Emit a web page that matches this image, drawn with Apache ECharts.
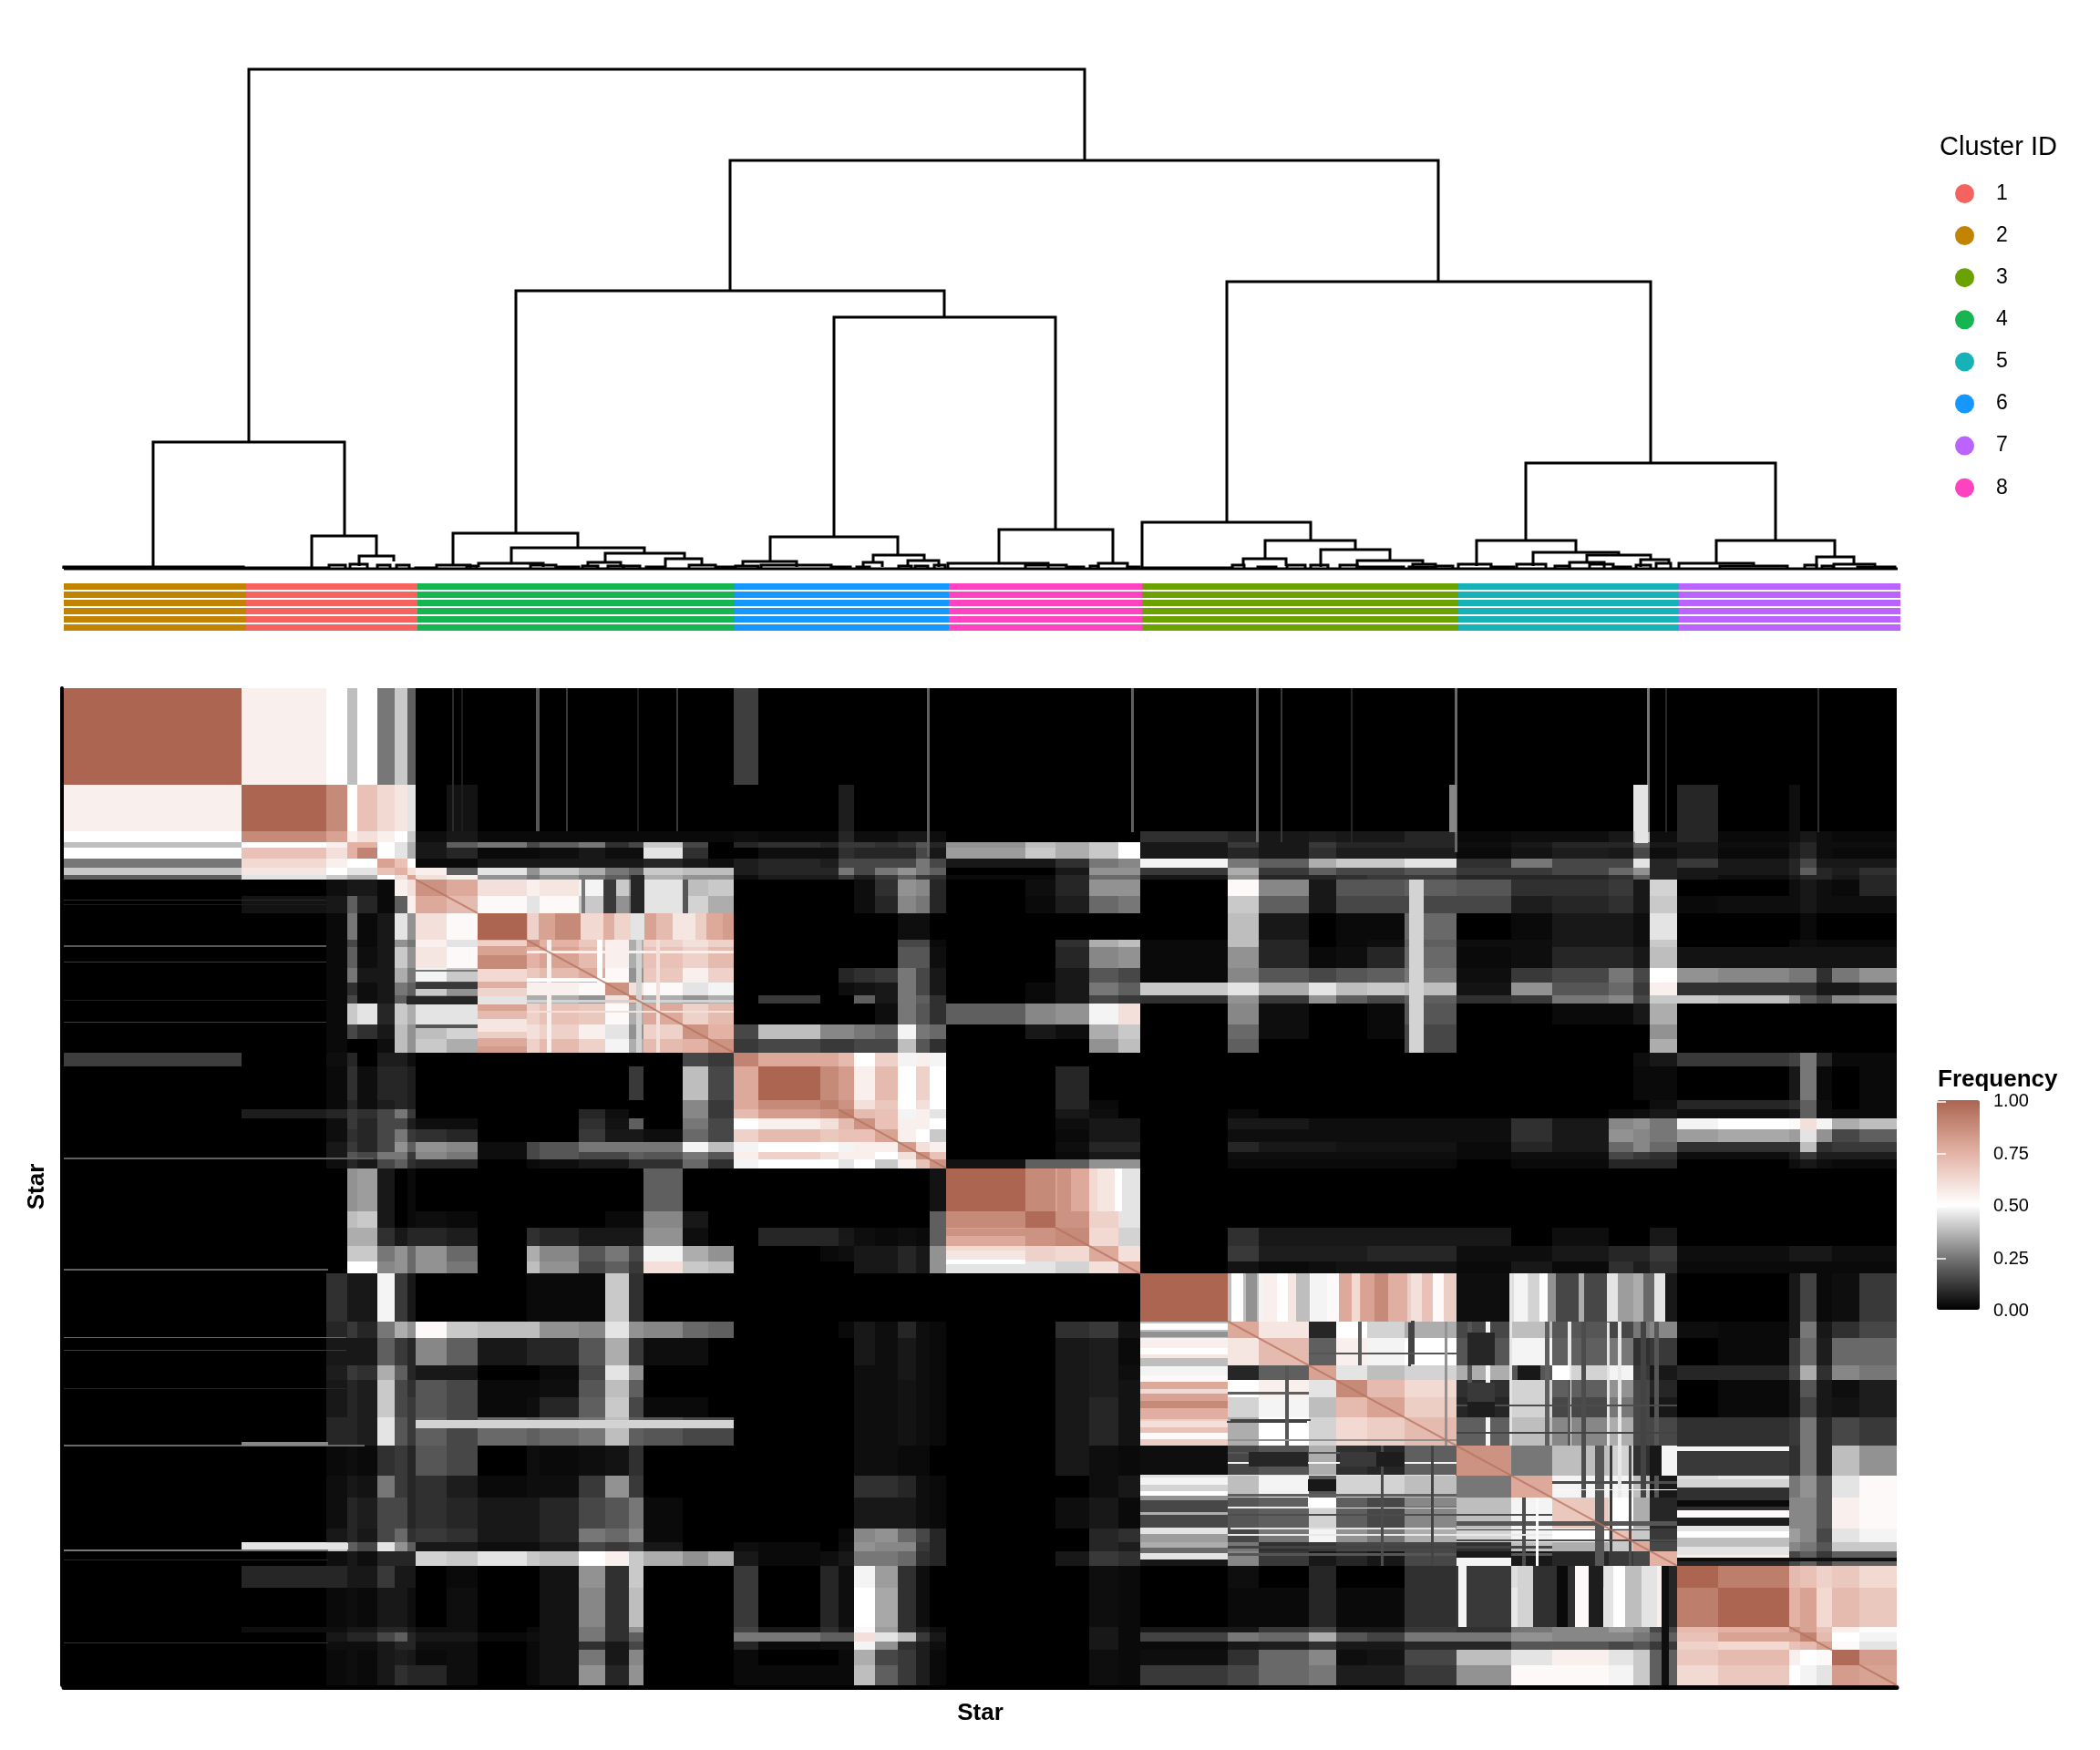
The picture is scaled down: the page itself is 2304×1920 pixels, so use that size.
<!DOCTYPE html>
<html><head><meta charset="utf-8">
<style>html,body{margin:0;background:#fff}#c{width:2304px;height:1920px}</style>
<script src="https://cdn.jsdelivr.net/npm/echarts@6/dist/echarts.min.js"></script>
</head><body><div id="c"></div>
<script>
// Star rank at which each ordered group of stars ends (same order on both axes).
const groupEnds = [195, 288,311,322,344,363,377,386, 420,454,508,522,565,594,620,636,679,707,735,
  762,830,850,867,890,915,935,950,968, 1055,1088,1125,1157,1181, 1277,1311,1366,1396,1430,1471,1528,
  1588,1633,1695,1722,1740,1770, 1815,1893,1905,1923,1940,1970,2011];

// Co-clustering frequency x100, upper triangle, read group by group.
const rowsCluster2 = [
 [100, 55,50,38,50,25,40,20, 0,0,0,0,0,0,0,0,0,0,0, 13,0,0,0,0,0,0,0,0, 0,0,0,0,0, 0,0,0,0,0,0,0, 0,0,0,0,0,0, 0,0,0,0,0,0,0]];
const rowsCluster1 = [
 [100,88,50,70,62,58,45, 0,4,0,0,0,0,0,0,0,0,0, 0,0,0,6,0,0,0,0,0, 0,0,0,0,0, 0,0,0,0,0,0,0, 0,0,0,0,45,0, 8,0,3,0,0,0,0],
 [80,55,60,55,50,40, 3,5,2,2,2,2,2,2,2,2,2, 3,2,2,8,3,3,5,5,3, 0,0,0,0,0, 10,8,5,6,5,5,8, 2,3,3,5,40,3, 8,2,3,5,3,2,2],
 [75,75,50,45,35, 5,20,25,15,20,25,10,15,40,15,0, 8,10,8,12,12,10,12,18,8, 30,38,35,40,50, 5,12,5,12,8,8,8, 3,5,8,8,20,5, 5,3,5,8,3,3,3],
 [90,50,45,35, 5,8,2,2,3,5,3,3,45,10,0, 0,3,3,10,8,8,8,15,5, 32,40,35,40,50, 5,8,5,10,6,6,6, 2,4,6,5,15,3, 5,2,5,8,3,2,2],
 [80,70,50, 2,2,5,5,5,5,5,5,8,5,3, 6,8,6,15,15,15,15,25,15, 5,5,10,25,28, 48,25,20,35,40,40,45, 10,25,15,15,45,8, 12,5,8,15,5,5,5],
 [75,60, 55,20,45,30,40,35,25,20,40,38,38, 6,8,8,25,15,25,30,25,20, 0,0,5,30,30, 12,35,12,20,15,15,18, 12,12,15,22,30,8, 5,5,8,20,8,6,10],
 [80, 60,55,30,25,30,25,20,15,35,30,30, 3,6,6,12,6,12,20,12,10, 2,2,8,22,22, 5,30,8,8,10,12,12, 8,8,8,10,20,8, 5,3,5,8,8,5,8]];
const rowsCluster4 = [
 [85,78,60,55,58,48,40,30,45,38,40, 0,0,0,0,3,10,30,28,8, 0,3,8,30,30, 0,52,28,5,18,18,20, 18,10,10,12,5,42, 0,0,3,5,3,2,8],
 [72,52,45,52,40,30,25,45,42,35, 0,0,0,0,3,8,28,25,8, 0,2,6,22,25, 0,40,20,5,15,15,15, 15,6,8,10,5,40, 2,3,3,5,3,3,3],
 [100,75,88,80,65,45,75,70,85, 0,0,0,0,0,0,3,3,0, 0,0,0,0,0, 0,38,5,0,2,2,22, 0,2,5,5,3,45, 0,0,0,2,0,0,0],
 [85,75,68,55,35,65,60,65, 0,0,0,0,0,0,15,15,2, 0,0,10,35,38, 2,38,8,0,2,3,20, 3,3,5,5,3,40, 0,0,2,3,2,2,2],
 [80,72,55,35,70,65,72, 0,0,0,0,0,0,18,18,3, 0,0,8,28,30, 2,30,8,2,3,8,22, 2,3,8,8,5,38, 4,4,4,4,4,4,4],
 [78,52,30,68,55,65, 0,0,0,8,10,12,25,15,5, 0,0,5,18,15, 2,28,18,15,18,20,25, 3,12,15,25,15,50, 30,28,25,25,10,25,30],
 [85,60,52,45,48, 0,0,0,3,4,5,25,15,5, 0,2,5,25,20, 40,45,35,45,38,40,38, 4,30,18,22,12,55, 10,10,10,10,5,5,8],
 [88,35,30,35, 0,12,0,0,20,5,25,20,10, 0,2,5,15,12, 10,30,12,30,20,15,20, 10,12,25,28,15,40, 40,38,30,20,15,28,30],
 [78,65,72, 0,0,0,0,0,3,25,18,10, 20,28,30,48,60, 0,28,3,0,0,2,18, 0,0,2,2,5,35, 0,0,0,0,0,0,0],
 [85,75, 15,38,28,28,25,22,48,25,22, 0,5,3,35,40, 0,22,3,0,0,2,15, 0,0,0,0,0,30, 0,0,0,0,0,0,0],
 [85, 12,15,12,12,15,15,38,18,10, 0,0,0,30,38, 0,20,0,0,0,0,15, 0,0,0,0,0,35, 0,0,0,0,0,0,0]];
const rowsCluster6 = [
 [90,78,78,72,50,65,48,55,48, 0,0,0,0,0, 0,0,0,0,0,0,0, 0,0,0,0,3,5, 12,12,14,25,8,2,2],
 [100,88,82,55,72,50,65,50, 0,0,8,0,0, 0,0,0,0,0,0,0, 0,0,0,0,2,2, 0,0,5,25,2,0,2],
 [92,85,60,68,50,60,50, 0,0,8,2,0, 0,0,0,0,0,0,0, 0,0,0,0,0,3, 8,8,10,20,3,0,2],
 [90,72,70,48,55,45, 0,0,5,3,0, 0,2,0,0,0,0,0, 0,0,0,2,3,5, 3,3,5,20,3,2,2],
 [85,70,55,55,50, 0,0,3,5,5, 0,5,5,3,3,3,3, 3,10,5,28,30,25, 48,50,52,60,48,35,38],
 [80,55,50,40, 0,0,2,5,5, 0,3,3,3,3,3,3, 3,10,5,30,28,25, 32,34,32,45,30,15,20],
 [82,60,55, 0,0,3,8,8, 0,8,5,5,4,4,4, 2,8,5,22,28,22, 10,10,10,38,10,12,12],
 [85,70, 0,0,2,5,5, 0,3,3,3,3,3,3, 2,3,3,15,12,10, 3,3,6,12,6,6,6],
 [85, 4,20,20,30,30, 0,2,2,2,2,2,2, 0,2,2,8,8,8, 0,0,3,5,3,2,2]];
const rowsCluster8 = [
 [100,88,80,62,45, 0,0,0,0,0,0,0, 0,0,0,0,0,0, 0,0,0,0,0,0,0],
 [98,85,65,45, 0,0,0,0,0,0,0, 0,0,0,0,0,0, 0,0,0,0,0,0,0],
 [88,62,42, 0,10,5,5,5,5,5, 5,0,3,0,0,5, 0,0,0,0,0,0,0],
 [78,60, 0,12,6,6,6,8,8, 3,3,5,8,8,12, 3,3,5,5,5,3,3],
 [78, 0,4,2,3,4,4,4, 2,5,2,10,6,10, 2,2,2,2,2,2,2]];
const rowsCluster3 = [
 [100,38,48,52,78,85,66, 3,44,15,32,35,5, 0,0,5,14,2,3,12],
 [78,58,8,50,42,35, 15,38,18,15,25,28, 3,2,5,25,5,10,15],
 [72,20,55,48,50, 18,48,20,25,10,12, 0,2,12,22,6,22,22],
 [80,45,38,42, 35,18,42,48,12,5, 8,8,15,35,10,28,25],
 [88,72,62, 10,42,20,30,15,8, 0,2,5,18,5,3,6],
 [80,66, 8,42,15,25,15,5, 0,2,5,14,5,4,6],
 [72, 20,38,28,35,15,15, 10,10,12,25,8,15,12]];
const rowsCluster5 = [
 [85,25,38,42,10,48, 12,12,10,25,8,38,30],
 [78,48,48,38,5, 44,46,25,30,18,45,52],
 [68,50,35,8, 44,48,28,28,18,55,52],
 [70,40,12, 45,45,32,28,15,45,48],
 [78,15, 38,42,28,25,18,40,40],
 [75, 12,18,15,20,12,20,20]];
const rowsCluster7 = [
 [100,92,72,70,65,68,62],
 [100,75,80,62,72,68],
 [85,80,70,55,50],
 [90,72,50,48],
 [80,52,45],
 [98,82],
 [80]];

// Narrow stripes: [rank, width in stars, from rank, to rank, frequency x100]
const stripesThin = [[426,2,0,288,9],[436,2,0,288,6],[518,4,0,288,18],[551,2,0,288,12],[629,2,0,288,6],[672,2,0,288,12],
 [947,3,0,340,20],[1171,3,0,290,20],[1308,3,0,310,22],[1335,2,0,310,12],[1412,2,0,310,8],[1526,3,0,330,22],[1737,3,0,290,25],[1757,2,0,290,8],[1924,2,0,290,10]];
const stripesOlive = [[1281,13,1181,1277,50],[1297,12,1181,1277,30],[1315,16,1181,1277,55],[1331,12,1181,1277,50],[1343,9,1181,1277,58],[1352,15,1181,1277,38],
 [1368,18,1181,1277,48],[1386,13,1181,1277,52],[1401,12,1181,1277,78],[1413,9,1181,1277,62],[1423,15,1181,1277,80],[1438,15,1181,1277,88],[1453,21,1181,1277,76],
 [1478,12,1181,1277,60],[1490,12,1181,1277,70],[1502,12,1181,1277,52],[1515,13,1181,1277,66],[1591,15,1181,1277,48],[1607,12,1181,1277,42],[1619,9,1181,1277,50],
 [1628,9,1181,1277,30],[1662,6,1181,1277,35],[1693,12,1181,1277,45],[1733,12,1181,1277,22],[1745,12,1181,1277,45]];
const stripesGreen = [[509,12,454,508,65],[521,18,454,508,80],[540,27,454,508,88],[567,25,454,508,62],[592,12,454,508,76],[604,18,454,508,64],[622,15,454,508,45],
 [637,13,454,508,80],[650,18,454,508,72],[668,25,454,508,58],[693,12,454,508,66],[705,18,454,508,78],[723,12,454,508,82],[1476,16,386,735,42],[1724,14,195,312,45],[1520,8,195,290,28],
 [592,12,386,454,15],[622,15,376,454,8],[628,6,508,735,42],[593,13,386,454,12],[679,6,386,454,18],[568,4,386,454,25],[530,5,508,735,55],[585,6,508,594,50],[650,4,508,735,60]];
const stripesPink = [[1090,15,968,1055,85],[1105,20,968,1055,78],[1134,19,968,1055,58],[1153,8,968,1055,50],[1161,20,968,1055,45]];
const stripesPurple = [[1530,9,1770,1893,48],[1595,18,1770,1893,42],[1613,10,1770,1893,50],[1623,12,1770,1893,55],[1635,21,1770,1893,40],[1656,21,1770,1893,52],
 [1677,12,1770,1893,5],[1690,8,1770,1893,45],[1700,13,1770,1893,50],[1713,18,1770,1893,38],[1731,18,1770,1893,45],[1748,10,1770,1893,55],[1760,10,1770,1893,8]];
// Lines and small patches in the olive / teal blocks
const stripesTeal = [[1696,3,1528,1770,12],[1680,10,1528,1770,18],[1717,3,1528,1770,16],[1478,4,1276,1364,14],[1693,3,1280,1527,45],[1586,3,1181,1527,45],[1475,3,1280,1368,14],
 [1540,5,1277,1471,18],[1560,5,1277,1528,48],[1600,4,1633,1770,16],[1625,5,1277,1528,20],[1650,4,1277,1528,46],[1665,5,1277,1633,16],[1705,4,1277,1633,46],[1730,6,1277,1633,14],[1745,5,1277,1633,18],
 [1340,4,1366,1528,18],[1420,4,1277,1366,20],[1445,3,1528,1770,16],[1500,3,1528,1770,14],[1515,3,1277,1528,30],[1650,3,1396,1528,18],[1615,3,1633,1770,52]];
const patches = [[1595,1620,1365,1396,5],[1633,1652,1365,1396,50],[1673,1688,1770,1893,6],[1740,1753,1528,1588,5],[1753,1761,1770,2011,3],[1612,1658,1770,1893,10],[1638,1650,1770,1893,2],
 [1540,1570,1300,1365,8],[1400,1440,1540,1570,12],[1440,1471,1540,1570,6]];
// Runs of the matrix diagonal that show as a dark thin line: [from rank, to rank]
const diagonalRuns = [[386,454],[508,735],[850,968],[1088,1181],[1277,1770],[1893,1940],[1970,2011]];

// Cluster annotation bar
const clusterOrder = ['2','1','4','6','8','3','5','7'];
const clusterBarEnds = [200,387.5,736,971,1183,1530,1772,2015];
const clusterColours = {'1':'#F6625E','2':'#C28300','3':'#6BA200','4':'#17B552','5':'#17B2B7','6':'#1697FF','7':'#BA63FF','8':'#FF42C0'};
const clusterLegend = ['1','2','3','4','5','6','7','8'];
const barRows = [0,1,2,3,4,5];

// Dendrogram merges: [left rank, right rank, height, left child height, right child height]
const treeMain = [[203,1120,548,139,448],[98,308,139,1,36],[272,343,36,2,14],[324,362,14,3,8],[731,1508,448,305,315],[496,966,305,39,276],
 [427,564,39,4,23],[409,446,4,1,1],[491,637,23,6,17],[455,526,6,2,2],[594,681,17,7,11],[575,611,7,2,2],[660,700,11,3,4],[686,715,4,1,1],
 [845,1088,276,35,43],[775,915,35,8,15],[745,804,8,2,2],[888,944,15,7,9],[877,898,7,2,2],[926,960,9,2,2],[1026,1151,43,6,6],[970,1080,6,1,1],[1135,1167,6,1,1],
 [1276,1741,315,51,116],[1183,1368,51,1,31],[1318,1417,31,11,21],[1294,1341,11,3,3],[1379,1455,21,2,9],[1419,1491,9,3,5],[1480,1505,5,1,1],
 [1604,1878,116,30,31],[1550,1659,31,3,18],[1612,1706,18,3,15],[1671,1741,15,7,10],[1652,1690,7,1,1],[1730,1761,10,2,5],[1813,1943,31,6,13],[1772,1854,6,1,3],[1817,1891,3,1,1],[1923,1964,13,2,5],[1942,1987,5,1,1]];
const treeLeaves = [[0,197,2,0,0],[0,197,1,0,0],[197,290,1,0,0],[291,309,4,0,0],[314,333,5,0,0],[344,358,4,0,0],[365,379,4,0,0],[386,407,1,0,0],[442,453,3,0,0],[512,540,4,0,0],[540,565,2,0,0],
 [569,586,3,0,0],[597,614,3,0,0],[614,632,3,0,0],[639,660,2,0,0],[716,737,2,0,0],[737,762,3,0,0],[765,842,4,0,0],[842,863,2,0,0],[870,884,2,0,0],[916,930,3,0,0],[934,948,3,0,0],[955,967,4,0,0],
 [1055,1100,4,0,0],[1100,1119,2,0,0],[1126,1135,3,0,0],[1167,1180,2,0,0],[1183,1282,1,0,0],[1282,1295,4,0,0],[1310,1330,2,0,0],[1342,1362,4,0,0],[1368,1387,4,0,0],[1400,1419,4,0,0],[1419,1470,2,0,0],
 [1476,1505,2,0,0],[1505,1524,3,0,0],[1530,1566,5,0,0],[1566,1591,2,0,0],[1594,1626,5,0,0],[1636,1652,3,0,0],[1674,1700,5,0,0],[1700,1719,2,0,0],[1725,1741,4,0,0],[1747,1763,6,0,0],[1910,1923,4,0,0],[1929,1941,3,0,0],[1968,2009,2,0,0],[0,2012,0,0,0]];

const rows = [].concat(rowsCluster2,rowsCluster1,rowsCluster4,rowsCluster6,rowsCluster8,rowsCluster3,rowsCluster5,rowsCluster7);
const N = groupEnds.length;
const cells = [];
for(let i=0;i<N;i++){ const a0=i?groupEnds[i-1]:0,a1=groupEnds[i];
  for(let j=i;j<N;j++){ const b0=j?groupEnds[j-1]:0,b1=groupEnds[j],v=rows[i][j-i]/100;
    cells.push([b0,b1,a0,a1,v]); if(i!==j) cells.push([a0,a1,b0,b1,v]); } }
[].concat(stripesThin,stripesOlive,stripesGreen,stripesPink,stripesPurple,stripesTeal).forEach(s=>{
  cells.push([s[2],s[3],s[0],s[0]+s[1],s[4]/100]); cells.push([s[0],s[0]+s[1],s[2],s[3],s[4]/100]); });
patches.forEach(p=>{ cells.push([p[0],p[1],p[2],p[3],p[4]/100]); cells.push([p[2],p[3],p[0],p[1],p[4]/100]); });

const font='"Liberation Sans",Arial,sans-serif';
const chart = echarts.init(document.getElementById('c'),null,{renderer:'canvas'});

const barSeries = clusterOrder.map((name,k)=>({
  name, type:'custom', xAxisIndex:2, yAxisIndex:2, itemStyle:{color:clusterColours[name]}, animation:false, silent:true,
  data: barRows.map(r=>[k?clusterBarEnds[k-1]:0,clusterBarEnds[k],r]),
  renderItem(p,api){ const a=api.coord([api.value(0),api.value(2)+.11]), b=api.coord([api.value(1),api.value(2)+.89]);
    return {type:'rect',shape:{x:Math.round(a[0]),y:Math.round(a[1]),width:Math.round(b[0])-Math.round(a[0]),height:Math.round(b[1])-Math.round(a[1])},style:{fill:api.visual('color')}}; }
}));
const treeRender=(p,api)=>{ const xl=api.value(0),xr=api.value(1),h=api.value(2);
  const pts=[[xl,api.value(3)],[xl,h],[xr,h],[xr,api.value(4)]].map(q=>api.coord(q));
  return {type:'polyline',shape:{points:pts},style:{stroke:'#000',fill:null,lineWidth:3,lineJoin:'miter'}}; };

chart.setOption({
  animation:false, backgroundColor:'#fff', textStyle:{fontFamily:font},
  title:[
    {text:'Cluster ID',left:2128,top:147,padding:0,textStyle:{fontFamily:font,fontSize:29,fontWeight:'normal',color:'#000'}},
    {text:'Frequency',left:2126,top:1172,padding:0,textStyle:{fontFamily:font,fontSize:26,fontWeight:'bold',color:'#000'}}
  ],
  legend:{orient:'vertical',left:2140,top:196,icon:'circle',itemWidth:21,itemHeight:21,itemGap:23.1,selectedMode:false,data:clusterLegend,
    textStyle:{fontFamily:font,fontSize:23,color:'#000',padding:[0,0,0,19]}},
  grid:[
    {left:70,top:755,width:2011,height:1094},
    {left:70,top:72,width:2015,height:552},
    {left:70,top:639,width:2015,height:54},
    {left:2125,top:1208.5,width:47,height:230}
  ],
  xAxis:[
    {gridIndex:0,type:'value',min:0,max:2011,position:'bottom',offset:2,name:'Star',nameLocation:'middle',nameGap:16,nameTextStyle:{fontFamily:font,fontSize:26,fontWeight:'bold',color:'#000'},
      axisLine:{show:true,onZero:false,lineStyle:{color:'#000',width:5}},axisTick:{show:false},axisLabel:{show:false},splitLine:{show:false}},
    {gridIndex:1,type:'value',min:0,max:2015,show:false},
    {gridIndex:2,type:'value',min:0,max:2015,show:false},
    {gridIndex:3,type:'value',min:0,max:1,show:false}
  ],
  yAxis:[
    {gridIndex:0,type:'value',min:0,max:2011,inverse:true,position:'left',offset:2,name:'Star',nameLocation:'middle',nameRotate:90,nameGap:14,nameTextStyle:{fontFamily:font,fontSize:26,fontWeight:'bold',color:'#000'},
      axisLine:{show:true,onZero:false,lineStyle:{color:'#000',width:4}},axisTick:{show:false},axisLabel:{show:false},splitLine:{show:false}},
    {gridIndex:1,type:'value',min:0,max:552,show:false},
    {gridIndex:2,type:'value',min:0,max:6,inverse:true,show:false},
    {gridIndex:3,type:'value',min:0,max:1,interval:.25,position:'right',z:10,axisLine:{show:false},
      axisTick:{show:true,inside:true,length:10,lineStyle:{color:'#fff',width:1.5}},splitLine:{show:false},
      axisLabel:{show:true,margin:15,fontSize:20,fontFamily:font,color:'#000',formatter:v=>v.toFixed(2)}},
    {gridIndex:3,type:'value',min:0,max:1,interval:.25,position:'left',z:10,axisLine:{show:false},
      axisTick:{show:true,inside:true,length:10,lineStyle:{color:'#fff',width:1.5}},splitLine:{show:false},axisLabel:{show:false}}
  ],
  visualMap:{type:'continuous',seriesIndex:0,dimension:4,min:0,max:1,left:2125,top:1207,padding:0,itemWidth:47,itemHeight:230,calculable:false,realtime:false,hoverLink:false,
    showLabel:false,inRange:{color:['#000000','#777777','#ffffff','#E3B2A4','#AB6550']},z:4},
  series:[
    {name:'Frequency',type:'custom',xAxisIndex:0,yAxisIndex:0,silent:true,animation:false,progressive:0,data:cells,
      encode:{x:[0,1],y:[2,3]},
      renderItem(p,api){ const a=api.coord([api.value(0),api.value(2)]), b=api.coord([api.value(1),api.value(3)]);
        const x=Math.round(a[0]),y=Math.round(a[1]);
        return {type:'rect',shape:{x,y,width:Math.max(1,Math.round(b[0])-x),height:Math.max(1,Math.round(b[1])-y)},style:{fill:api.visual('color')}}; }},
    {name:'Diagonal',type:'custom',xAxisIndex:0,yAxisIndex:0,silent:true,animation:false,data:diagonalRuns,z:3,
      renderItem(p,api){ const a=api.coord([api.value(0),api.value(0)]), b=api.coord([api.value(1),api.value(1)]);
        return {type:'line',shape:{x1:a[0],y1:a[1],x2:b[0],y2:b[1]},style:{stroke:'#B5705C',lineWidth:2,opacity:.75}}; }},
    {name:'Tree',type:'custom',xAxisIndex:1,yAxisIndex:1,silent:true,animation:false,data:treeMain.concat(treeLeaves),renderItem:treeRender}
  ].concat(barSeries)
});
</script></body></html>
